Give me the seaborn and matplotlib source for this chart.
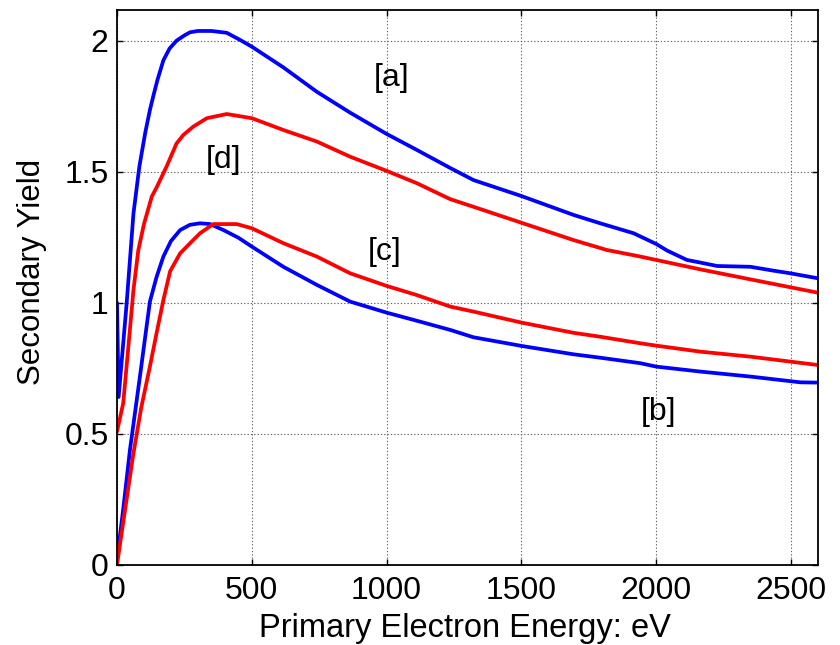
import matplotlib
matplotlib.use("Agg")
import matplotlib.pyplot as plt
import seaborn as sns

# ---- data ----
a_x = [0, 6, 36, 61, 83, 105, 122, 135, 150, 172, 195, 221, 250, 271, 300, 350, 407, 456, 500,
       617, 741, 865, 1000, 1112, 1236, 1322, 1500, 1693, 1792, 1916, 2000, 2040, 2114, 2164,
       2226, 2349, 2436, 2498, 2600]
a_y = [1.0, 0.64, 1.0, 1.34, 1.52, 1.65, 1.735, 1.79, 1.85, 1.925, 1.97, 2.0, 2.02, 2.032, 2.037,
       2.037, 2.03, 2.003, 1.977, 1.898, 1.805, 1.725, 1.644, 1.583, 1.514, 1.468, 1.407, 1.335,
       1.303, 1.265, 1.224, 1.199, 1.163, 1.153, 1.14, 1.137, 1.122, 1.112, 1.093]

d_x = [0, 23, 42, 61, 79, 100, 129, 147, 184, 221, 246, 283, 333, 407, 500, 617, 741, 865, 1000,
       1112, 1236, 1322, 1500, 1693, 1817, 1941, 2000, 2164, 2349, 2600]
d_y = [0.508, 0.616, 0.83, 1.048, 1.2, 1.30, 1.405, 1.44, 1.52, 1.608, 1.64, 1.672, 1.704, 1.72,
       1.704, 1.659, 1.615, 1.557, 1.503, 1.456, 1.395, 1.366, 1.305, 1.239, 1.201, 1.176, 1.163,
       1.127, 1.089, 1.038]

b_x = [0, 24, 48, 85, 122, 147, 172, 200, 234, 270, 308, 345, 395, 450, 500, 617, 741, 865, 1000,
       1112, 1236, 1322, 1500, 1693, 1792, 1941, 2000, 2164, 2349, 2535, 2600]
b_y = [0.02, 0.22, 0.438, 0.718, 1.004, 1.099, 1.176, 1.235, 1.277, 1.297, 1.303, 1.30, 1.277,
       1.248, 1.214, 1.137, 1.068, 1.004, 0.962, 0.931, 0.896, 0.868, 0.835, 0.803, 0.79, 0.769,
       0.756, 0.737, 0.718, 0.696, 0.695]

c_x = [0, 30, 61, 90, 122, 147, 172, 197, 234, 271, 308, 357, 444, 500, 617, 741, 865, 1000, 1112,
       1236, 1322, 1500, 1693, 1792, 1941, 2000, 2164, 2349, 2600]
c_y = [0.0, 0.21, 0.425, 0.6, 0.756, 0.885, 1.01, 1.12, 1.188, 1.227, 1.265, 1.30, 1.30, 1.284,
       1.227, 1.176, 1.112, 1.064, 1.029, 0.985, 0.966, 0.924, 0.885, 0.870, 0.845, 0.836, 0.813,
       0.794, 0.762]

labels = ["[a]", "[d]", "[c]", "[b]"]
label_x = [1019, 395, 994, 2009]
label_y = [1.857, 1.545, 1.195, 0.584]

x_ticks = [0, 500, 1000, 1500, 2000, 2500]
y_ticks = [0, 0.5, 1, 1.5, 2]
y_tick_labels = ["0", "0.5", "1", "1.5", "2"]

# ---- style ----
sns.set_style("white")
plt.rcParams["font.family"] = ["Liberation Sans", "DejaVu Sans"]

fig = plt.figure(figsize=(8.4, 6.45), dpi=100)
ax = fig.add_axes([117 / 840, 80.3 / 645, 701 / 840, 554.7 / 645])

lw = 2.7
sns.lineplot(x=a_x, y=a_y, color="#0000ff", lw=lw, sort=False, estimator=None, ax=ax)
sns.lineplot(x=d_x, y=d_y, color="#ff0000", lw=lw, sort=False, estimator=None, ax=ax)
sns.lineplot(x=b_x, y=b_y, color="#0000ff", lw=lw, sort=False, estimator=None, ax=ax)
sns.lineplot(x=c_x, y=c_y, color="#ff0000", lw=lw, sort=False, estimator=None, ax=ax)

for t, xx, yy in zip(labels, label_x, label_y):
    ax.text(xx, yy, t, fontsize=23, ha="center", va="center", color="black")

ax.set_xlim(0, 2600)
ax.set_ylim(0, 2.117)
ax.set_xticks(x_ticks)
ax.set_yticks(y_ticks)
ax.set_yticklabels(y_tick_labels)

ax.grid(True, linestyle=(0, (1.2, 1.8)), color="0.4", linewidth=0.8)
ax.set_axisbelow(True)

for s in ax.spines.values():
    s.set_color("black")
    s.set_linewidth(1.3)

ax.tick_params(axis="both", which="both", direction="in", length=4, width=1,
               top=True, right=True, bottom=True, left=True,
               labelsize=23, colors="black")
ax.tick_params(axis="x", pad=8.0)
ax.tick_params(axis="y", pad=6.0)

ax.set_xlabel("Primary Electron Energy: eV", fontsize=23.5, color="black")
ax.set_ylabel("Secondary Yield", fontsize=22.5, color="black")
ax.xaxis.set_label_coords(0.497, -0.1298)
ax.xaxis.label.set_verticalalignment("baseline")
ax.yaxis.set_label_coords(-0.110, 0.527)
ax.yaxis.label.set_verticalalignment("baseline")

fig.savefig("out.png", dpi=100)
